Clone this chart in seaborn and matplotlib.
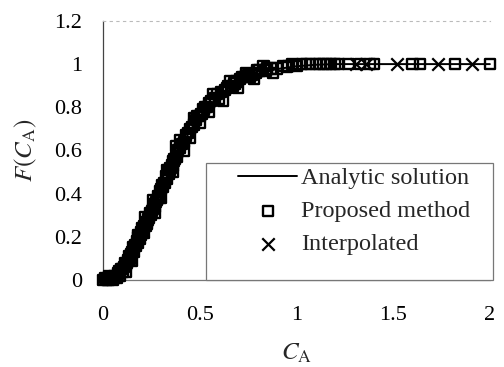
import pandas as pd
import matplotlib
matplotlib.use("Agg")
import matplotlib.pyplot as plt
import seaborn as sns
from matplotlib.ticker import FuncFormatter
from matplotlib.patches import Rectangle

# === Analytic solution
analytic_c = [0.00, 0.05, 0.10, 0.15, 0.20, 0.25, 0.30, 0.35, 0.40, 0.45, 0.50, 0.55,
              0.60, 0.65, 0.70, 0.75, 0.80, 0.90, 1.00, 1.10, 1.20, 1.40, 1.60, 1.80, 2.00]
analytic_f = [0.00, 0.01, 0.05, 0.12, 0.21, 0.31, 0.41, 0.51, 0.61, 0.69, 0.76, 0.80,
              0.84, 0.875, 0.91, 0.935, 0.955, 0.977, 0.99, 0.997, 1.00, 1.00, 1.00, 1.00, 1.00]

# === Proposed method (squares)
proposed_c = [0.00, 0.01, 0.02, 0.03, 0.035, 0.04, 0.05, 0.055, 0.06, 0.07, 0.075, 0.08,
              0.085, 0.09, 0.095, 0.10, 0.105, 0.11, 0.115, 0.12, 0.125, 0.13, 0.135, 0.14,
              0.145, 0.15, 0.155, 0.16, 0.165, 0.17, 0.175, 0.18, 0.185, 0.19, 0.195, 0.20,
              0.205, 0.21, 0.215, 0.22, 0.225, 0.23, 0.235, 0.24, 0.245, 0.25, 0.255, 0.26,
              0.265, 0.27, 0.275, 0.28, 0.285, 0.29, 0.295, 0.30, 0.305, 0.31, 0.315, 0.32,
              0.325, 0.33, 0.34, 0.345, 0.35, 0.36, 0.365, 0.37, 0.38, 0.385, 0.39, 0.40,
              0.41, 0.42, 0.43, 0.44, 0.45, 0.46, 0.47, 0.48, 0.49, 0.50, 0.51, 0.52,
              0.53, 0.54, 0.55, 0.56, 0.58, 0.59, 0.60, 0.61, 0.63, 0.64, 0.65, 0.67,
              0.68, 0.69, 0.71, 0.72, 0.73, 0.75, 0.76, 0.77, 0.79, 0.80, 0.81, 0.84,
              0.85, 0.87, 0.90, 0.93, 0.95, 0.96, 0.98, 1.00, 1.03, 1.05, 1.07, 1.10,
              1.12, 1.14, 1.16, 1.18, 1.20, 1.22, 1.27, 1.33, 1.38, 1.40, 1.60, 1.64,
              1.82, 2.00,
              0.12, 0.15, 0.18, 0.22, 0.26, 0.27, 0.30, 0.33, 0.36, 0.38, 0.40, 0.42,
              0.45, 0.47, 0.50, 0.55, 0.57, 0.62, 0.66, 0.70, 0.74, 0.78, 0.83, 0.88]
proposed_f = [0.00, 0.01, 0.00, 0.00, 0.02, 0.01, 0.00, 0.01, 0.02, 0.01, 0.02, 0.03,
              0.04, 0.02, 0.05, 0.05, 0.04, 0.06, 0.08, 0.07, 0.08, 0.09, 0.11, 0.10,
              0.12, 0.13, 0.15, 0.13, 0.16, 0.16, 0.18, 0.17, 0.20, 0.19, 0.21, 0.22,
              0.24, 0.22, 0.25, 0.25, 0.27, 0.26, 0.28, 0.29, 0.31, 0.30, 0.32, 0.33,
              0.35, 0.34, 0.36, 0.37, 0.39, 0.38, 0.41, 0.42, 0.44, 0.43, 0.45, 0.45,
              0.48, 0.47, 0.49, 0.51, 0.52, 0.53, 0.55, 0.56, 0.57, 0.59, 0.60, 0.61,
              0.63, 0.64, 0.67, 0.68, 0.70, 0.71, 0.72, 0.74, 0.76, 0.76, 0.77, 0.79,
              0.80, 0.80, 0.82, 0.83, 0.84, 0.86, 0.84, 0.87, 0.88, 0.89, 0.90, 0.90,
              0.91, 0.92, 0.93, 0.94, 0.94, 0.95, 0.94, 0.95, 0.96, 0.97, 0.97, 0.97,
              0.98, 0.98, 0.98, 0.99, 0.985, 0.99, 1.00, 0.99, 1.00, 1.00, 1.00, 1.00,
              1.00, 1.00, 1.00, 1.00, 1.00, 1.00, 1.00, 1.00, 1.00, 1.00, 1.00, 1.00,
              1.00, 1.00,
              0.04, 0.09, 0.21, 0.29, 0.37, 0.31, 0.38, 0.51, 0.50, 0.62, 0.65, 0.60,
              0.66, 0.75, 0.73, 0.78, 0.86, 0.83, 0.92, 0.89, 0.96, 0.93, 0.99, 0.96]

# === Interpolated (crosses)
interp_c = [1.31, 1.36, 1.52, 1.73, 1.91]
interp_f = [1.00, 1.00, 1.00, 1.00, 1.00]

x_ticks = [0, 0.5, 1, 1.5, 2]
y_ticks = [0, 0.2, 0.4, 0.6, 0.8, 1.0, 1.2]

df_an = pd.DataFrame({"C": analytic_c, "F": analytic_f})
df_pr = pd.DataFrame({"C": proposed_c, "F": proposed_f})
df_in = pd.DataFrame({"C": interp_c, "F": interp_f})

sns.set_style("white")
plt.rcParams["font.family"] = ["Liberation Serif", "DejaVu Serif"]
plt.rcParams["mathtext.fontset"] = "stix"

fig = plt.figure(figsize=(5.04, 3.67), dpi=100)
ax = fig.add_axes([0.204, 0.237, 0.768, 0.706])

sns.lineplot(data=df_an, x="C", y="F", ax=ax, color="black", linewidth=1.4,
             label="Analytic solution", zorder=2, clip_on=False)
sns.scatterplot(data=df_pr, x="C", y="F", ax=ax, marker="s", s=55,
                facecolor="none", edgecolor="black", linewidth=1.7,
                label="Proposed method", zorder=3, clip_on=False)
sns.scatterplot(data=df_in, x="C", y="F", ax=ax, marker="x", s=80,
                color="black", linewidth=1.6, label="Interpolated", zorder=4,
                clip_on=False)

ax.set_xlim(0, 2)
ax.set_ylim(0, 1.2)
ax.set_xticks(x_ticks)
ax.set_yticks(y_ticks)
fmt = FuncFormatter(lambda v, p: f"{v:g}")
ax.xaxis.set_major_formatter(fmt)
ax.yaxis.set_major_formatter(fmt)
ax.tick_params(axis="both", direction="in", length=4, width=0.8,
               labelsize=16, labelcolor="black")
ax.tick_params(axis="x", pad=19)
ax.tick_params(axis="y", pad=15)
for t in ax.get_xticklines() + ax.get_yticklines():
    t.set_color("#666666")

ax.spines["left"].set_color("#444444")
ax.spines["bottom"].set_color("#777777")
ax.spines["left"].set_linewidth(0.9)
ax.spines["bottom"].set_linewidth(0.9)
ax.spines["top"].set_color("#bbbbbb")
ax.spines["top"].set_linestyle((0, (2, 4)))
ax.spines["top"].set_linewidth(0.8)
ax.spines["right"].set_visible(False)

ax.set_xlabel(r"$C_{\mathrm{A}}$", fontsize=18, labelpad=12)
ax.set_ylabel(r"$F(C_{\mathrm{A}})$", fontsize=18, labelpad=11)

# legend box frame
ax.add_patch(Rectangle((0.266, 0.0), 0.742, 0.452, transform=ax.transAxes,
                       facecolor="white", edgecolor="#777777", linewidth=0.9,
                       zorder=5, clip_on=False))
leg = ax.legend(loc="upper left", bbox_to_anchor=(0.349, 0.435), frameon=False,
                fontsize=17.5, handlelength=2.45, handletextpad=0.15,
                labelspacing=0.45, borderpad=0, borderaxespad=0, markerscale=1.0)
leg.set_zorder(6)

fig.savefig("out.png", dpi=100)
